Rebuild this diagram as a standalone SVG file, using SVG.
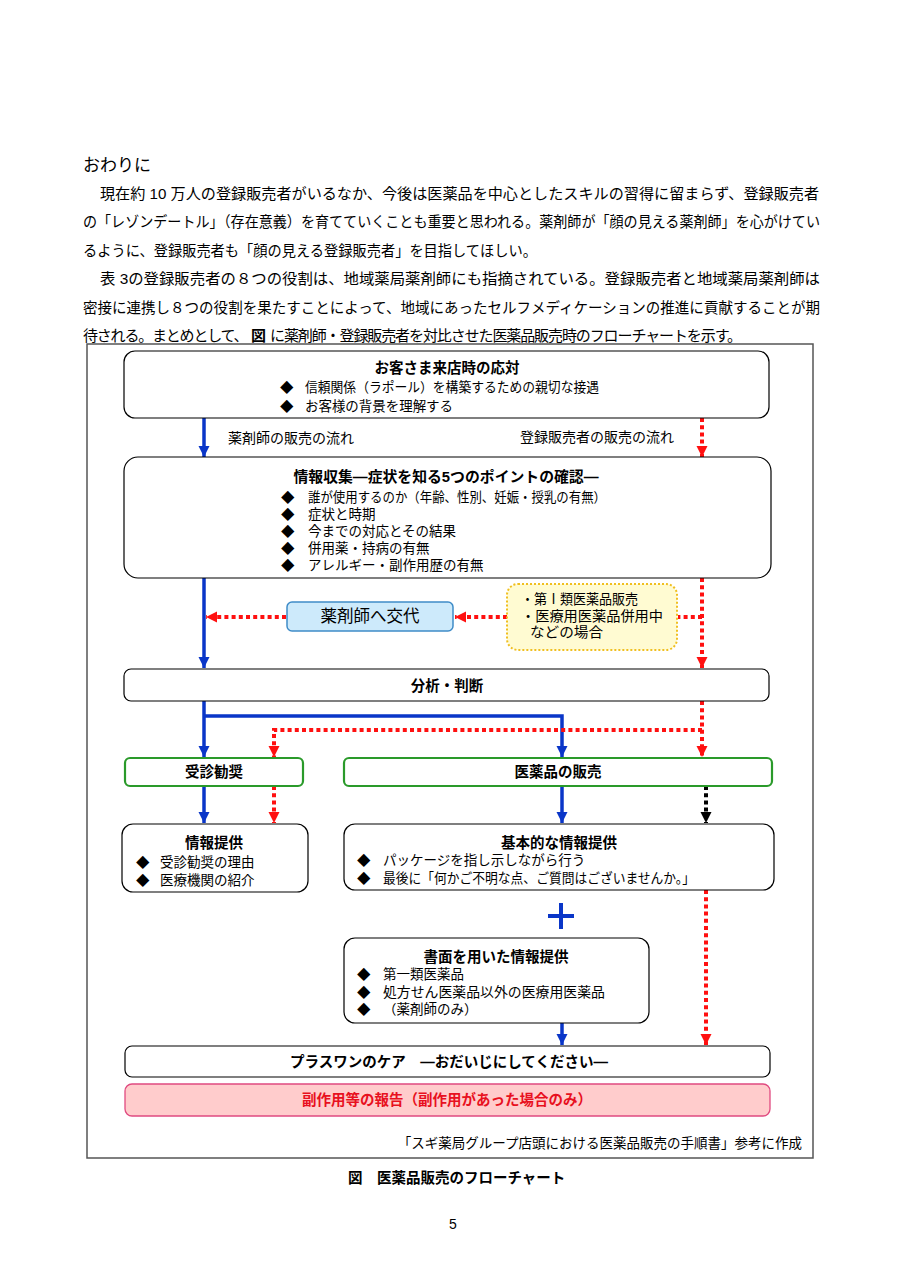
<svg xmlns="http://www.w3.org/2000/svg" width="904" height="1280" viewBox="0 0 904 1280">
<style>
text{font-family:"Liberation Sans","Noto Sans CJK JP",sans-serif;fill:#000}
.p{font-size:15px}
.h{font-size:17px}
.t{font-size:14.5px;font-weight:bold;text-anchor:middle}
.b{font-size:13.5px}
.lb{font-size:14px}
.box{fill:#fff;stroke:#000;stroke-width:1.2}
.gbox{fill:#fff;stroke:#2a9a2a;stroke-width:2.2}
.blue{fill:none;stroke:#0a36c8;stroke-width:3.5}
.red{fill:none;stroke:#ff1010;stroke-width:4;stroke-dasharray:4 3.2}
.blk{fill:none;stroke:#000;stroke-width:4;stroke-dasharray:4 3.2}
</style>
<defs>
<marker id="ab" markerUnits="userSpaceOnUse" markerWidth="12" markerHeight="12" refX="11" refY="6" orient="auto"><path d="M0,0.5 L11,6 L0,11.5 z" fill="#0a36c8"/></marker>
<marker id="ar" markerUnits="userSpaceOnUse" markerWidth="12" markerHeight="12" refX="11" refY="6" orient="auto"><path d="M0,0.5 L11,6 L0,11.5 z" fill="#ff1010"/></marker>
<marker id="ak" markerUnits="userSpaceOnUse" markerWidth="12" markerHeight="12" refX="11" refY="6" orient="auto"><path d="M0,0.5 L11,6 L0,11.5 z" fill="#000"/></marker>
</defs>
<rect width="904" height="1280" fill="#fff"/>

<g id="body-text">
<text class="h" x="83" y="171">おわりに</text>
<text class="p" x="100" y="198.5" textLength="719" lengthAdjust="spacingAndGlyphs">現在約 10 万人の登録販売者がいるなか、今後は医薬品を中心としたスキルの習得に留まらず、登録販売者</text>
<text class="p" x="83" y="227" textLength="737" lengthAdjust="spacingAndGlyphs">の「レゾンデートル」（存在意義）を育てていくことも重要と思われる。薬剤師が「顔の見える薬剤師」を心がけてい</text>
<text class="p" x="83" y="255.5" textLength="454" lengthAdjust="spacingAndGlyphs">るように、登録販売者も「顔の見える登録販売者」を目指してほしい。</text>
<text class="p" x="100" y="284" textLength="720" lengthAdjust="spacingAndGlyphs">表 3の登録販売者の８つの役割は、地域薬局薬剤師にも指摘されている。登録販売者と地域薬局薬剤師は</text>
<text class="p" x="83" y="312.5" textLength="737" lengthAdjust="spacingAndGlyphs">密接に連携し８つの役割を果たすことによって、地域にあったセルフメディケーションの推進に貢献することが期</text>
<text class="p" x="83" y="341" letter-spacing="-1.2">待される。まとめとして、</text>
<text class="p" x="251" y="341" font-weight="bold">図</text>
<text class="p" x="270" y="341" letter-spacing="-1.1">に薬剤師・登録販売者を対比させた医薬品販売時のフローチャートを示す。</text>
</g>

<rect id="frame" x="87" y="344" width="726" height="814" fill="none" stroke="#555" stroke-width="1.5"/>

<g id="connectors">
<line class="blue" x1="204" y1="418" x2="204" y2="457" marker-end="url(#ab)"/>
<line class="red" x1="702" y1="418" x2="702" y2="457" marker-end="url(#ar)"/>
<line class="blue" x1="204" y1="578" x2="204" y2="668" marker-end="url(#ab)"/>
<line class="red" x1="702" y1="578" x2="702" y2="668" marker-end="url(#ar)"/>
<line class="red" x1="702" y1="617" x2="678" y2="617"/>
<line class="red" x1="507" y1="617" x2="455" y2="617" marker-end="url(#ar)"/>
<line class="red" x1="286" y1="617" x2="206" y2="617" marker-end="url(#ar)"/>
<line class="blue" x1="204" y1="701" x2="204" y2="757" marker-end="url(#ab)"/>
<path class="blue" d="M204,716 H562 V757" marker-end="url(#ab)"/>
<line class="red" x1="702" y1="701" x2="702" y2="757" marker-end="url(#ar)"/>
<path class="red" d="M702,730 H274 V757" marker-end="url(#ar)"/>
<line class="blue" x1="204" y1="786" x2="204" y2="823" marker-end="url(#ab)"/>
<line class="red" x1="274" y1="786" x2="274" y2="823" marker-end="url(#ar)"/>
<line class="blue" x1="562" y1="786" x2="562" y2="823" marker-end="url(#ab)"/>
<line class="blk" x1="706" y1="786" x2="706" y2="823" marker-end="url(#ak)"/>
<line class="red" x1="706" y1="890" x2="706" y2="1045" marker-end="url(#ar)"/>
<line class="blue" x1="562" y1="1023" x2="562" y2="1045" marker-end="url(#ab)"/>
<path d="M561,903 V929 M548,916 H574" fill="none" stroke="#0a36c8" stroke-width="4"/>
</g>

<text class="lb" x="228" y="443">薬剤師の販売の流れ</text>
<text class="lb" x="520" y="442">登録販売者の販売の流れ</text>

<g id="node-visit">
<rect class="box" x="124" y="351" width="645" height="67" rx="11"/>
<text class="t" x="447" y="373">お客さま来店時の応対</text>
<text class="b" x="280" y="392">◆</text>
<text class="b" x="305" y="392" textLength="294" lengthAdjust="spacingAndGlyphs">信頼関係（ラポール）を構築するための親切な接遇</text>
<text class="b" x="280" y="411">◆</text>
<text class="b" x="305" y="411" textLength="148" lengthAdjust="spacingAndGlyphs">お客様の背景を理解する</text>
</g>

<g id="node-info">
<rect class="box" x="124" y="457" width="647" height="121" rx="14"/>
<text class="t" x="446" y="482" textLength="305" lengthAdjust="spacingAndGlyphs">情報収集―症状を知る5つのポイントの確認―</text>
<text class="b" x="281" y="502">◆</text>
<text class="b" x="308" y="502" textLength="298" lengthAdjust="spacingAndGlyphs">誰が使用するのか（年齢、性別、妊娠・授乳の有無）</text>
<text class="b" x="281" y="519">◆</text>
<text class="b" x="308" y="519">症状と時期</text>
<text class="b" x="281" y="536">◆</text>
<text class="b" x="308" y="536">今までの対応とその結果</text>
<text class="b" x="281" y="553">◆</text>
<text class="b" x="308" y="553">併用薬・持病の有無</text>
<text class="b" x="281" y="570">◆</text>
<text class="b" x="308" y="570">アレルギー・副作用歴の有無</text>
</g>

<g id="node-kotai">
<rect x="287" y="602" width="166" height="29" rx="5" fill="#cdeafb" stroke="#3f8cc8" stroke-width="1.5"/>
<text x="370" y="622" font-size="16.5" text-anchor="middle">薬剤師へ交代</text>
</g>

<g id="node-case">
<rect x="507" y="584" width="170" height="66" rx="11" fill="#fffbd2" stroke="#f0bf20" stroke-width="2" stroke-dasharray="2 2"/>
<text x="521" y="604" font-size="14" textLength="117" lengthAdjust="spacingAndGlyphs">・第Ⅰ類医薬品販売</text>
<text x="521" y="621" font-size="14" textLength="142" lengthAdjust="spacingAndGlyphs">・医療用医薬品併用中</text>
<text x="530" y="637" font-size="14" textLength="73" lengthAdjust="spacingAndGlyphs">などの場合</text>
</g>

<g id="node-analysis">
<rect class="box" x="124" y="669" width="645" height="32" rx="7"/>
<text class="t" x="447" y="690.5">分析・判断</text>
</g>

<g id="node-jushin">
<rect class="gbox" x="125" y="758" width="178" height="28" rx="5"/>
<text class="t" x="214" y="777">受診勧奨</text>
</g>

<g id="node-sale">
<rect class="gbox" x="344" y="758" width="428" height="28" rx="5"/>
<text class="t" x="558" y="777">医薬品の販売</text>
</g>

<g id="node-info2">
<rect class="box" x="122" y="824" width="186" height="68" rx="11"/>
<text class="t" x="214" y="848">情報提供</text>
<text class="b" x="136" y="867">◆</text>
<text class="b" x="160" y="867">受診勧奨の理由</text>
<text class="b" x="136" y="885">◆</text>
<text class="b" x="160" y="885">医療機関の紹介</text>
</g>

<g id="node-basic">
<rect class="box" x="344" y="824" width="430" height="66" rx="11"/>
<text class="t" x="559" y="848">基本的な情報提供</text>
<text class="b" x="357" y="865">◆</text>
<text class="b" x="383" y="865">パッケージを指し示しながら行う</text>
<text class="b" x="357" y="883">◆</text>
<text class="b" x="383" y="883" textLength="312" lengthAdjust="spacingAndGlyphs">最後に「何かご不明な点、ご質問はございませんか。」</text>
</g>

<g id="node-written">
<rect class="box" x="344" y="938" width="305" height="85" rx="11"/>
<text class="t" x="496" y="962">書面を用いた情報提供</text>
<text class="b" x="357" y="979">◆</text>
<text class="b" x="383" y="979">第一類医薬品</text>
<text class="b" x="357" y="997">◆</text>
<text class="b" x="383" y="997" textLength="222" lengthAdjust="spacingAndGlyphs">処方せん医薬品以外の医療用医薬品</text>
<text class="b" x="357" y="1014">◆</text>
<text class="b" x="383" y="1014">（薬剤師のみ）</text>
</g>

<g id="node-care">
<rect class="box" x="125" y="1046" width="645" height="31" rx="7"/>
<text class="t" x="449" y="1067">プラスワンのケア　―おだいじにしてください―</text>
</g>

<g id="node-report">
<rect x="125" y="1084" width="645" height="32" rx="7" fill="#ffcccc" stroke="#e04a80" stroke-width="1.3"/>
<text class="t" x="447" y="1105" style="fill:#e81020">副作用等の報告（副作用があった場合のみ）</text>
</g>

<text class="b" x="802" y="1148" text-anchor="end">「スギ薬局グループ店頭における医薬品販売の手順書」参考に作成</text>
<text x="348" y="1183" font-size="14.5" font-weight="bold">図　医薬品販売のフローチャート</text>
<text x="453" y="1229" font-size="14" text-anchor="middle">5</text>
</svg>
